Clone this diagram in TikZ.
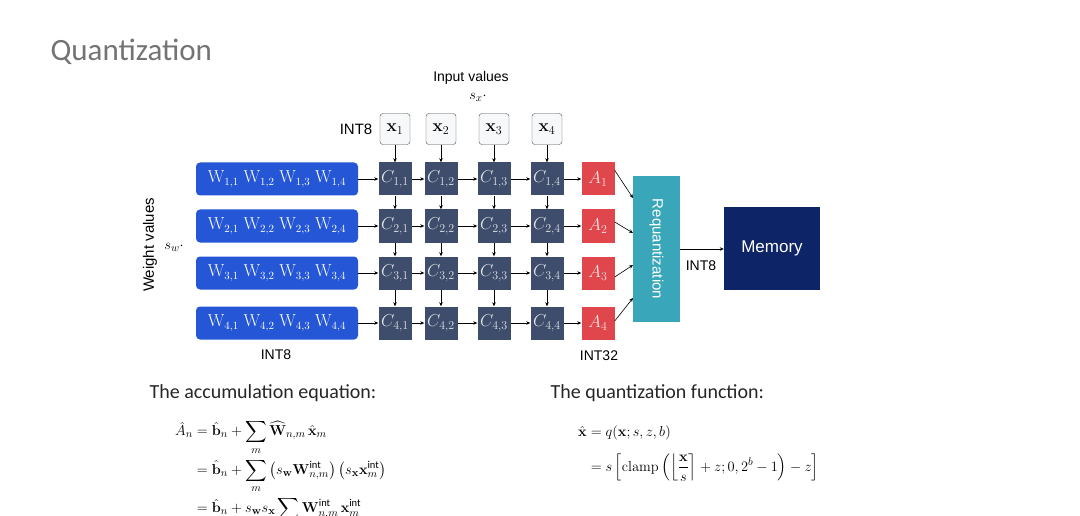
\documentclass[tikz,border=0pt]{standalone}
\usepackage{amsmath,amssymb}
\usepackage[no-math]{fontspec}
\setmainfont{Carlito}
\newfontfamily\hel{Liberation Sans}
\usetikzlibrary{arrows.meta}
\definecolor{wblue}{HTML}{2456D6}
\definecolor{cslate}{HTML}{3E4D6B}
\definecolor{ared}{HTML}{E0474C}
\definecolor{teal}{HTML}{3AA6B9}
\definecolor{navy}{HTML}{0D2466}
\definecolor{xfill}{HTML}{F6F8FA}
\begin{document}
\begin{tikzpicture}[x=1pt,y=-1pt,
  arr/.style={-{Stealth[length=4pt,width=3.5pt]},line width=0.6pt},
  xbox/.style={draw=black!70,fill=xfill,rounded corners=3pt,minimum width=30pt,minimum height=31pt,inner sep=0pt,font=\fontsize{17}{18}\selectfont},
  cbox/.style={fill=cslate,minimum size=33pt,inner sep=0pt,text=white!85!cslate,font=\fontsize{17}{18}\selectfont},
  abox/.style={fill=ared,minimum size=33pt,inner sep=0pt,text=white!85!ared,font=\fontsize{17}{18}\selectfont},
  wbox/.style={fill=wblue,rounded corners=4pt,minimum width=162pt,minimum height=33pt,inner sep=0pt,text=white,font=\fontsize{16}{18}\selectfont},
  lbl/.style={font=\hel\fontsize{14}{15}\selectfont},
  hd/.style={font=\fontsize{20}{22}\selectfont,anchor=west,text=black!85}]
\useasboundingbox (0,0) rectangle (1080,516);
\clip (0,0) rectangle (1080,516);
\node[anchor=west,text=black!55,font=\fontsize{31}{33}\selectfont] (title) at (47,52) {Quantization};
\node[lbl] (inv) at (471,78) {Input values};
\node[font=\fontsize{15}{16}\selectfont] (sx) at (478,97) {$s_x\cdot$};
\node[lbl,font=\hel\fontsize{15}{16}\selectfont] (int8a) at (356,129) {INT8};
\foreach \j/\x in {1/395,2/441,3/494,4/547}{
  \node[xbox] (x\j) at (\x,129) {$\mathbf{x}_{\j}$};
}
\foreach \i/\y in {1/179,2/226,3/273,4/323}{
  \node[wbox] (w\i) at (277,\y) {$\mathrm{W}_{\i,1}\;\mathrm{W}_{\i,2}\;\mathrm{W}_{\i,3}\;\mathrm{W}_{\i,4}$};
  \foreach \j/\x in {1/395,2/441,3/494,4/547}{
    \node[cbox] (c\i\j) at (\x,\y) {$C_{\i,\j}$};
  }
  \node[abox] (a\i) at (598,\y) {$A_{\i}$};
  \draw[arr] (w\i) -- (c\i1);
  \draw[arr] (c\i1) -- (c\i2);
  \draw[arr] (c\i2) -- (c\i3);
  \draw[arr] (c\i3) -- (c\i4);
  \draw[arr] (c\i4) -- (a\i);
}
\foreach \j in {1,2,3,4}{
  \draw[arr] (x\j) -- (c1\j);
  \draw[arr] (c1\j) -- (c2\j);
  \draw[arr] (c2\j) -- (c3\j);
  \draw[arr] (c3\j) -- (c4\j);
}
\node[fill=teal,minimum width=47pt,minimum height=146pt,inner sep=0pt] (rq) at (656.5,249) {};
\node[rotate=-90,text=white,font=\hel\fontsize{15}{16}\selectfont] (rqt) at (rq.center) {Requantization};
\node[fill=navy,minimum width=96pt,minimum height=83pt,inner sep=0pt,text=white,font=\hel\fontsize{17}{18}\selectfont] (mem) at (772,248.5) {Memory};
\coordinate (r1) at (633,198);
\coordinate (r2) at (633,233);
\coordinate (r3) at (633,265);
\coordinate (r4) at (633,298);
\draw[arr] (a1.north east) ++(0,8) -- (r1);
\draw[arr] (a2.east) ++(0,-4) -- (r2);
\draw[arr] (a3.east) ++(0,4) -- (r3);
\draw[arr] (a4.east) ++(0,-2) -- (r4);
\draw[arr] (rq.east |- 0,249) -- (mem.west |- 0,249);
\node[lbl] (int8c) at (701,266) {INT8};
\node[lbl] (int32) at (599,356) {INT32};
\node[lbl] (int8b) at (276,355) {INT8};
\node[rotate=90,font=\hel\fontsize{15}{16}\selectfont] (wv) at (150,245) {Weight values};
\node[font=\fontsize{15}{16}\selectfont] (sw) at (174,247) {$s_w\cdot$};
\node[hd] (h1) at (146,393) {The accumulation equation:};
\node[hd] (h2) at (547,393) {The quantization function:};
\node[anchor=north west,inner sep=0pt,font=\fontsize{15}{18}\selectfont] (eq1) at (175,420) {$\begin{aligned}
\hat A_n &= \hat{\mathbf{b}}_n + \sum_m \widehat{\mathbf{W}}_{n,m}\,\hat{\mathbf{x}}_m\\
&= \hat{\mathbf{b}}_n + \sum_m \left(s_{\mathbf{w}}\mathbf{W}^{\text{int}}_{n,m}\right)\left(s_{\mathbf{x}}\mathbf{x}^{\text{int}}_m\right)\\
&= \hat{\mathbf{b}}_n + s_{\mathbf{w}}s_{\mathbf{x}}\sum_m \mathbf{W}^{\text{int}}_{n,m}\,\mathbf{x}^{\text{int}}_m
\end{aligned}$};
\node[anchor=north west,inner sep=0pt,font=\fontsize{15}{18}\selectfont] (eq2) at (578,424) {$\begin{aligned}
\hat{\mathbf{x}} &= q(\mathbf{x};s,z,b)\\[8pt]
&= s\left[\mathrm{clamp}\left(\left\lfloor\frac{\mathbf{x}}{s}\right\rceil + z;0,2^b-1\right)-z\right]
\end{aligned}$};
\end{tikzpicture}
\end{document}
